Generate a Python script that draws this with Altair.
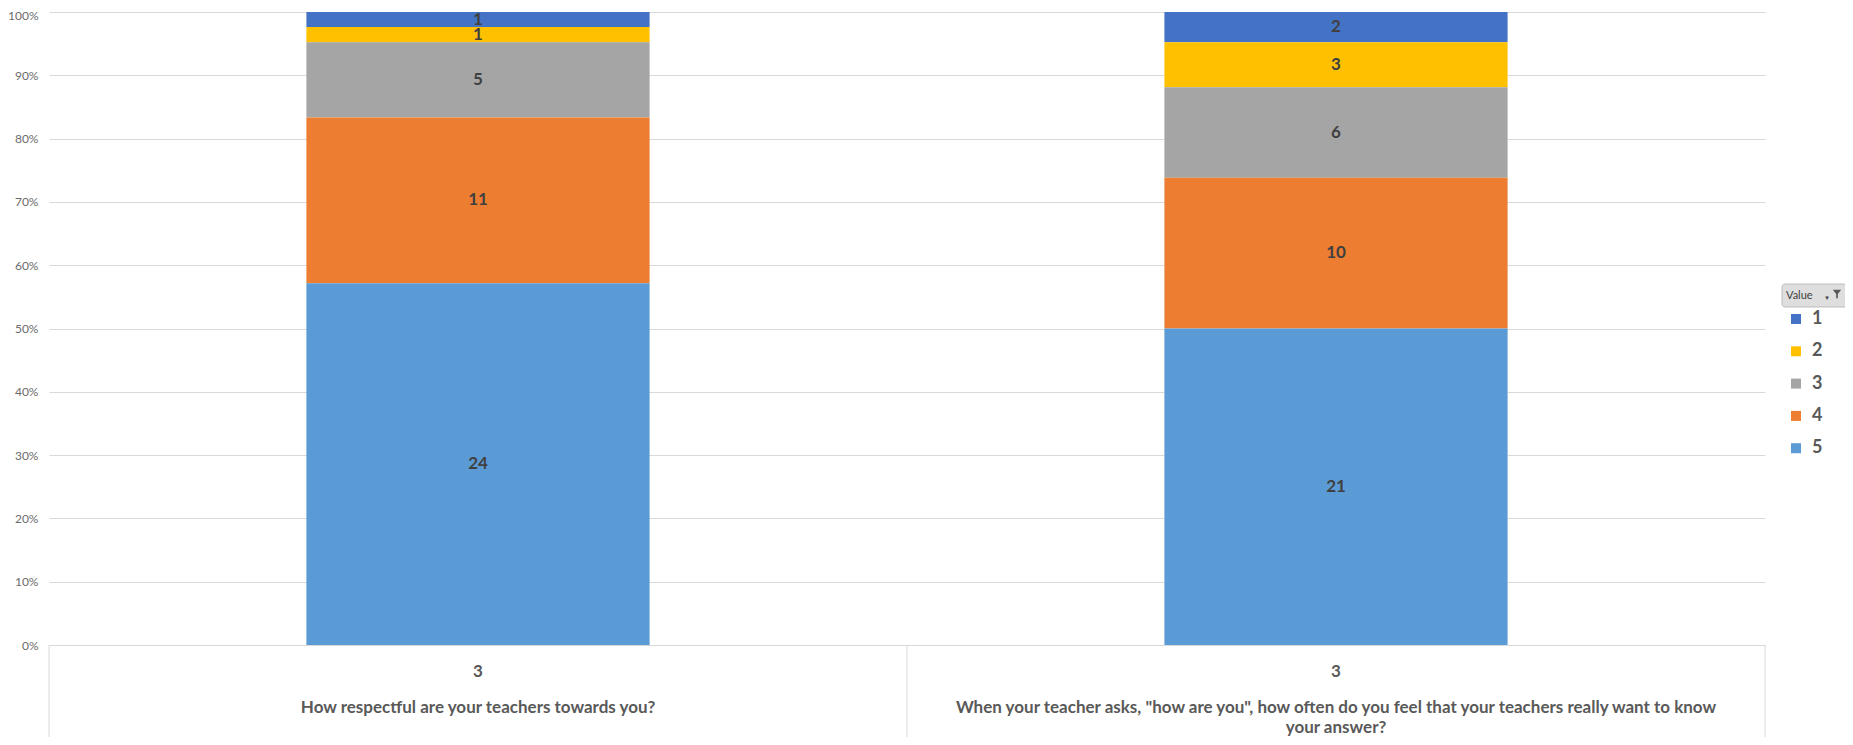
import altair as alt
import pandas as pd

# ---- data ----
question_ids = ["q1", "q2"]
question_texts = [
    "How respectful are your teachers towards you?",
    "When your teacher asks, \"how are you\", how often do you feel that your teachers really want to know\nyour answer?",
]
group_labels = ["3", "3"]
levels = [1, 2, 3, 4, 5]
counts_q1 = [1, 1, 5, 11, 24]
counts_q2 = [2, 3, 6, 10, 21]
level_colors = ["#4472C4", "#FFC000", "#A5A5A5", "#ED7D31", "#5B9BD5"]
y_ticks = [0, 0.1, 0.2, 0.3, 0.4, 0.5, 0.6, 0.7, 0.8, 0.9, 1.0]

rows = []
for qid, counts in zip(question_ids, [counts_q1, counts_q2]):
    for lv, c in zip(levels, counts):
        rows.append({"qid": qid, "level": lv, "count": c})
df = pd.DataFrame(rows)
cat_df = pd.DataFrame({"qid": question_ids, "group": group_labels, "qtext": question_texts})
one = pd.DataFrame({"a": [0]})

FONT = "Lato"
W, H = 1716, 633

x_scale = alt.Scale(paddingInner=0.6, paddingOuter=0.3)
y_scale = alt.Scale(domain=[0, 1])
x_axis = alt.Axis(labels=False, ticks=False, title=None, grid=False,
                  domainColor="#d9d9d9", domainWidth=1)
y_axis = alt.Axis(format=".0%", values=y_ticks, title=None, domain=False, ticks=False,
                  labelPadding=11, labelFontSize=12, labelColor="#6b6b6b", labelFont=FONT,
                  labelOffset={"condition": {"test": "datum.value >= 1", "value": 3}, "value": 0},
                  gridColor="#d9d9d9", gridWidth=1)

bars = alt.Chart(df).mark_bar().encode(
    x=alt.X("qid:N", scale=x_scale, sort=question_ids, axis=x_axis),
    y=alt.Y("count:Q", stack="normalize", scale=y_scale, axis=y_axis),
    color=alt.Color("level:N", scale=alt.Scale(domain=levels, range=level_colors),
                    legend=alt.Legend(title=None, orient="none", legendX=1738, legendY=298,
                                      symbolType="square", symbolSize=100, symbolStrokeWidth=0,
                                      labelFontSize=18, labelFontWeight="bold", labelColor="#595959",
                                      labelFont=FONT, rowPadding=14.3, labelOffset=7, padding=0)),
    order=alt.Order("level:Q", sort="descending"),
)

labels = alt.Chart(df).transform_joinaggregate(
    total="sum(count)", groupby=["qid"]
).transform_window(
    cum="sum(count)", groupby=["qid"], sort=[alt.SortField("level", order="descending")], frame=[None, 0]
).transform_calculate(
    mid="(datum.cum - datum.count / 2) / datum.total"
).mark_text(font=FONT, fontSize=17, fontWeight="bold", color="#404040", baseline="middle").encode(
    x=alt.X("qid:N", sort=question_ids, axis=x_axis),
    y=alt.Y("mid:Q", scale=y_scale, axis=y_axis),
    text=alt.Text("count:Q"),
)

group_text = alt.Chart(cat_df).mark_text(
    font=FONT, fontSize=17, fontWeight="bold", color="#595959", baseline="middle"
).encode(
    x=alt.X("qid:N", sort=question_ids, axis=x_axis),
    y=alt.value(660),
    text="group:N",
)

q_text = alt.Chart(cat_df).mark_text(
    font=FONT, fontSize=17, fontWeight="bold", color="#595959", baseline="top",
    lineBreak="\n", lineHeight=20
).encode(
    x=alt.X("qid:N", sort=question_ids, axis=x_axis),
    y=alt.value(688),
    text="qtext:N",
)

rule_style = dict(color="#d9d9d9", strokeWidth=1)
rules = [
    alt.Chart(one).mark_rule(**rule_style).encode(x=alt.value(xv), y=alt.value(H), y2=alt.value(H + 100))
    for xv in (0, W / 2, W)
]

button = alt.Chart(one).mark_rect(cornerRadius=3, fill="#dedede", stroke="#bdbdbd", strokeWidth=1).encode(
    x=alt.value(1733), x2=alt.value(1798), y=alt.value(272), y2=alt.value(295)
)
button_text = alt.Chart(one).mark_text(
    font=FONT, fontSize=11, color="#404040", align="left", baseline="middle", text="Value"
).encode(x=alt.value(1737), y=alt.value(284))
button_arrow = alt.Chart(one).mark_text(
    font="DejaVu Sans", fontSize=7, color="#404040", align="center", baseline="middle", text="▾"
).encode(x=alt.value(1778), y=alt.value(286))
funnel = alt.Chart(one).mark_point(
    shape="M -1 -1 L 1 -1 L 0.2 0 L 0.2 1 L -0.2 1 L -0.2 0 Z",
    filled=True, color="#595959", opacity=1, size=70
).encode(x=alt.value(1788), y=alt.value(282))

chart = alt.layer(
    bars, labels, group_text, q_text, *rules, button, button_text, button_arrow, funnel
).properties(
    width=W, height=H,
    autosize=alt.AutoSizeParams(type="none"),
    padding={"left": 41, "top": 4, "right": 80, "bottom": 92},
    background="white",
).configure_view(stroke=None)

chart.save("out.html", embed_options={"renderer": "svg", "actions": False})
